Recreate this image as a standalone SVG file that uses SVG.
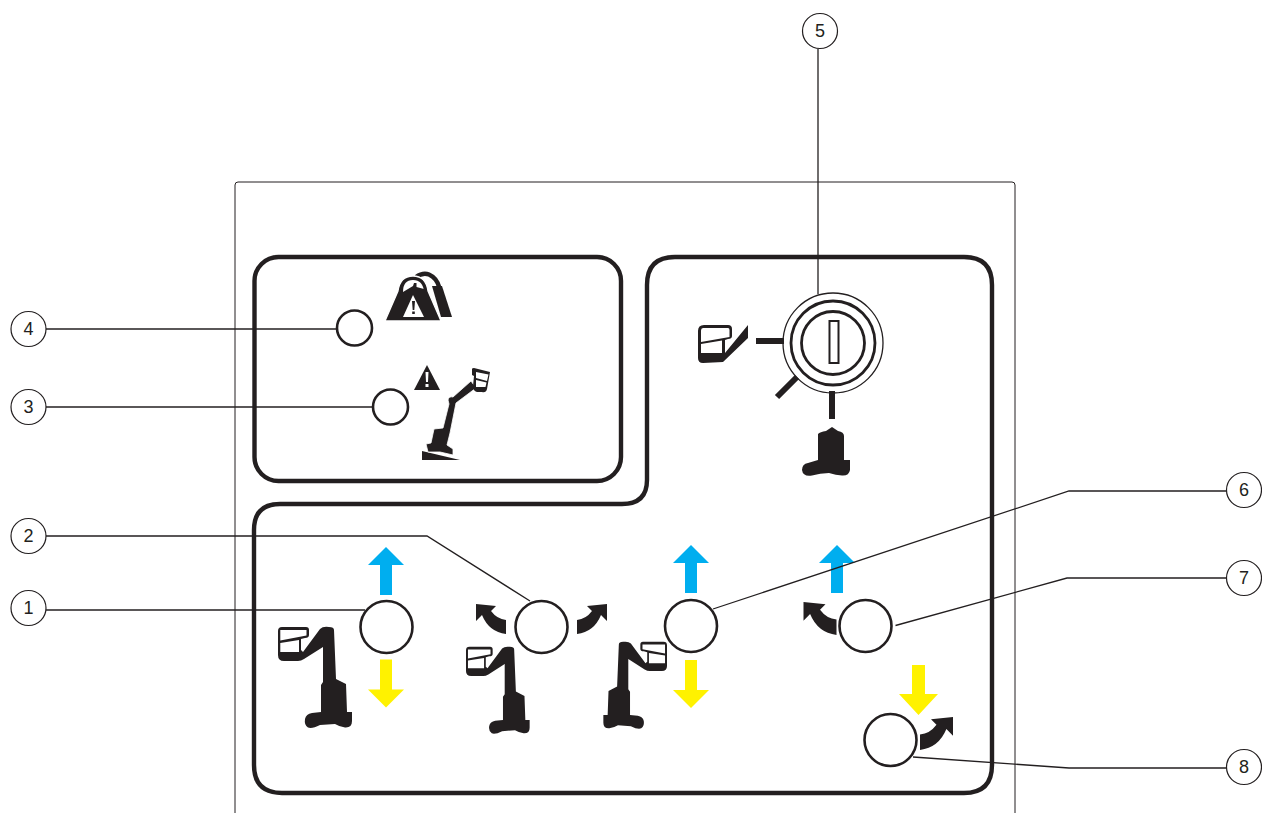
<svg xmlns="http://www.w3.org/2000/svg" xmlns:xlink="http://www.w3.org/1999/xlink" width="1262" height="813" viewBox="0 0 1262 813">
<style>
.lead{fill:none;stroke:#231f20;stroke-width:1.3}
.region{fill:none;stroke:#231f20;stroke-width:4.4}
.btn{fill:#fff;stroke:#231f20;stroke-width:2.6}
.tag{fill:#fff;stroke:#231f20;stroke-width:1.2}
.num{font-family:"Liberation Sans",Arial,sans-serif;font-size:18px;fill:#231f20;text-anchor:middle}
.k{fill:#231f20}
.w{fill:#fff}
.up{fill:#00aeef}
.dn{fill:#fff200}
.bar{fill:none;stroke:#231f20;stroke-width:6}
</style>
<defs>
<g id="lift">
<path class="k" d="M320 629Q323 626 329 627Q334 627 334 630L336 679L346 684L347 712L352 712L352 721Q352 728 345 727.500Q340 727 335 724L320 725Q312 729 308 727.500Q304 725 305 719Q306 714 312 713L321 712L321 685L323 682L323 647L304 659Q301 661 298 661L284 661Q278 661 278 655L278 631Q278 627 282 627L306 627Q309 627 309 630L309 635Q309 638 305 638L301 639L301 650L303 652Z"/>
<path class="w" d="M280.300 630L306.500 630L306.500 635.500L280.300 640.500ZM280.300 643L299 640L299 652L280.300 652Z"/>
</g>
<path id="arrowUp" class="up" d="M0-28L18-10L6-10L6 20L-6 20L-6-10L-18-10Z"/>
<path id="arrowDn" class="dn" d="M0 28L18 10L6 10L6-20L-6-20L-6 10L-18 10Z"/>
<path id="curveL" class="k" d="M0 0Q-17-2-24-19L-30-13L-30-30L-10-28L-15-23Q-9-15 0-14Z"/>
</defs>

<g id="panel"><path fill="none" stroke="#231f20" stroke-width="1" d="M235 813L235 185Q235 182 238 182L1012 182Q1015 182 1015 185L1015 813"/></g>

<g id="regions">
<rect class="region" x="254.500" y="257" width="366.500" height="224" rx="24"/>
<path class="region" d="M647 285Q647 257 675 257L964 257Q992 257 992 285L992 765Q992 793 964 793L282 793Q254 793 254 765L254 530Q254 504 280 504L622 504Q647 504 647 480Z"/>
</g>

<g id="tag-1"><circle class="tag" cx="28.500" cy="608" r="17.500"/><text class="num" x="28.500" y="614">1</text></g>
<g id="tag-2"><circle class="tag" cx="28.500" cy="536" r="17.500"/><text class="num" x="28.500" y="542">2</text></g>
<g id="tag-3"><circle class="tag" cx="28.500" cy="407" r="17.500"/><text class="num" x="28.500" y="413">3</text></g>
<g id="tag-4"><circle class="tag" cx="28.500" cy="329" r="17.500"/><text class="num" x="28.500" y="335">4</text></g>
<g id="tag-5"><circle class="tag" cx="820" cy="31" r="17.500"/><text class="num" x="820" y="37">5</text></g>
<g id="tag-6"><circle class="tag" cx="1244" cy="490" r="17.500"/><text class="num" x="1244" y="496">6</text></g>
<g id="tag-7"><circle class="tag" cx="1244" cy="578" r="17.500"/><text class="num" x="1244" y="584">7</text></g>
<g id="tag-8"><circle class="tag" cx="1244" cy="767" r="17.500"/><text class="num" x="1244" y="773">8</text></g>

<g id="indicator-4">
<circle class="btn" cx="354.500" cy="328" r="17.500"/>
<path fill="none" stroke="#231f20" stroke-width="4.500" d="M416 277Q423 272 429 274.500Q437 278 439.500 288"/>
<path class="k" d="M432 286L442 286L452 317L441 317Z"/>
<path class="k" stroke="#fff" stroke-width="1.300" d="M385 321L398 291Q400 276 413 276Q426 276 428 291L441 321Z"/>
<path class="w" d="M403 292Q403 280 413 280Q423 280 424 292Z"/>
<path class="k" d="M408 289L413 286L414 283L416.500 283L416.500 287L424 289L424 292L403 292Z"/>
<path class="w" d="M413 295L403 317L424 317Z"/>
<path class="k" d="M412 301L415 301L414.300 310L412.700 310ZM412.200 311.500L414.800 311.500L414.800 314L412.200 314Z"/>
</g>

<g id="indicator-3">
<circle class="btn" cx="390.500" cy="407" r="17.500"/>
<path class="k" d="M427 365L414 390L440 390Z"/>
<path class="w" d="M425.500 372L428.500 372L428 382L426 382ZM425.500 384L428.500 384L428.500 387L425.500 387Z"/>
<path class="k" d="M422 451L460 460L422 460Z"/>
<path class="k" stroke="#fff" stroke-width=".8" d="M448 400Q449 396 453 397L471 381L476 388L456 403L450 433L447 445L453 449L453 455L440 452L428 452L426 444L431 443L434 429L443 428L449 404Z"/>
<path class="k" d="M472 369Q472 368 474 368L490 372L487 389Q486 393 482 392L477 392Q473 391 473 386L474 376L472 375Z"/>
<path class="w" d="M476 372L488.500 374.500L487 381L476 378ZM476 380L486.500 382.500L485.500 387L476 387Z"/>
</g>

<g id="key-switch">
<circle fill="#fff" stroke="#231f20" stroke-width="1.300" cx="833" cy="343" r="50"/>
<circle fill="none" stroke="#231f20" stroke-width="2.800" cx="833" cy="343" r="42"/>
<circle fill="none" stroke="#231f20" stroke-width="2.800" cx="833" cy="343" r="31.500"/>
<rect fill="#fff" stroke="#231f20" stroke-width="2" x="829.500" y="321" width="9" height="42"/>
<path class="bar" d="M756 341L784 341M797 377L777 397M832 391L832 419"/>
<path class="k" d="M698 358L698 331Q698 325 704 325L728 325Q732 325 732 329L732 336Q732 339 728 339L725 340L725 353L748 325L748 338L723 362L703 363Q698 363 698 358Z"/>
<path class="w" d="M701 330.500Q701 328 703 328L728 328Q729.500 328 729.500 330L729.500 337L701 342ZM701 344L722 340.500L722 353L701 353Z"/>
<path class="k" d="M818 434Q820 432 826 431L832 427L838 431Q844 432 844 436L844 460L850 460L850 470Q849 476 842 475.500Q836 475 829 473Q820 473 812 475.500Q803 477 802 470Q802 464 808 463L818 460Z"/>
</g>

<g id="control-1">
<circle class="btn" cx="386.500" cy="627" r="26"/>
<use href="#arrowUp" xlink:href="#arrowUp" x="386" y="575"/>
<use href="#arrowDn" xlink:href="#arrowDn" x="386" y="679.500"/>
<use href="#lift" xlink:href="#lift"/>
</g>

<g id="control-2">
<circle class="btn" cx="541.500" cy="627" r="26"/>
<use href="#curveL" xlink:href="#curveL" x="506" y="634"/>
<use href="#curveL" xlink:href="#curveL" transform="translate(577 634) scale(-1 1)"/>
<use href="#lift" xlink:href="#lift" transform="translate(466 646) scale(.86) translate(-278 -626)"/>
</g>

<g id="control-6">
<circle class="btn" cx="691" cy="626" r="26"/>
<use href="#arrowUp" xlink:href="#arrowUp" x="691" y="573"/>
<use href="#arrowDn" xlink:href="#arrowDn" x="691" y="680"/>
<use href="#lift" xlink:href="#lift" transform="translate(667 641) scale(-.86 .86) translate(-278 -626)"/>
</g>

<g id="control-7">
<circle class="btn" cx="865.500" cy="626" r="26"/>
<use href="#arrowUp" xlink:href="#arrowUp" x="837" y="573"/>
<use href="#curveL" xlink:href="#curveL" transform="translate(836.500 635) scale(1.100)"/>
</g>

<g id="control-8">
<circle class="btn" cx="890.500" cy="740" r="26"/>
<path class="dn" d="M918.500 715L899 694L912 694L912 665L925 665L925 694L938 694Z"/>
<use href="#curveL" xlink:href="#curveL" transform="translate(920 750) scale(-1.100 1.100)"/>
</g>

<g id="connectors">
<path class="lead" d="M46 329L336 329"/>
<path class="lead" d="M46 407L372 407"/>
<path class="lead" d="M46 536L427 536L530 601"/>
<path class="lead" d="M46 610L365 610"/>
<path class="lead" d="M818 49L818 294"/>
<path class="lead" d="M1226 491L1069 491L713 609"/>
<path class="lead" d="M1226 578L1067 578L895.500 625.500"/>
<path class="lead" d="M1226 768L1069 768L913 757"/>
</g>
</svg>
